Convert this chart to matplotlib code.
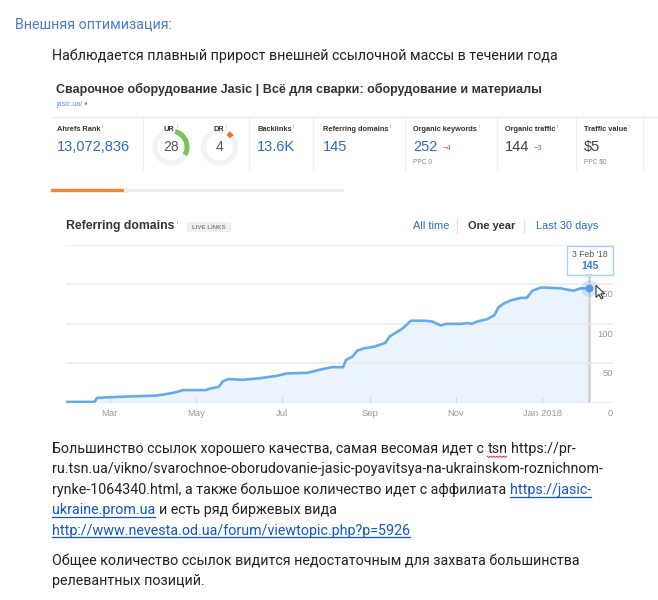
import numpy as np
import pandas as pd
import matplotlib
matplotlib.use('Agg')
import matplotlib.pyplot as plt
import matplotlib.dates as mdates
from matplotlib.patches import Rectangle, Wedge, Polygon
from matplotlib.lines import Line2D
from matplotlib.transforms import IdentityTransform, blended_transform_factory

# referring domains, one year view
dates = ['2017-01-29', '2017-02-18', '2017-02-20', '2017-03-01', '2017-03-16',
         '2017-04-03', '2017-04-10', '2017-04-16', '2017-04-22', '2017-05-08',
         '2017-05-11', '2017-05-17', '2017-05-20', '2017-05-24', '2017-06-03',
         '2017-06-15', '2017-06-27', '2017-07-04', '2017-07-19', '2017-07-28',
         '2017-08-05', '2017-08-13', '2017-08-15', '2017-08-20', '2017-08-23',
         '2017-08-28', '2017-09-04', '2017-09-12', '2017-09-15', '2017-09-24',
         '2017-09-30', '2017-10-09', '2017-10-15', '2017-10-21', '2017-10-25',
         '2017-11-05', '2017-11-09', '2017-11-12', '2017-11-16', '2017-11-23',
         '2017-11-28', '2017-12-01', '2017-12-05', '2017-12-10', '2017-12-17',
         '2017-12-21', '2017-12-25', '2017-12-31', '2018-01-03', '2018-01-14',
         '2018-01-23', '2018-01-28', '2018-02-03']
domains = [1, 1, 6, 7, 8,
           9, 11, 13, 16, 16,
           18, 20, 27, 30, 29,
           31, 34, 37, 38, 42,
           45, 45, 54, 59, 66,
           69, 71, 76, 84, 94,
           104, 104, 103, 98, 100,
           100, 101, 100, 103, 106,
           111, 121, 126, 130, 133,
           133, 142, 146, 146, 145,
           142, 145, 145]

month_ticks = ['2017-03-01', '2017-05-01', '2017-07-01', '2017-09-01', '2017-11-01', '2018-01-01']
month_labels = ['Mar', 'May', 'Jul', 'Sep', 'Nov', 'Jan 2018']
y_ticks = [0, 50, 100, 150, 200]
y_labels = ['0', '50', '100', '150', '']
x_start, x_end = '2017-01-29', '2018-02-20'
hover_date = '2018-02-03'
hover_label = "3 Feb '18"
hover_value = 145

metric_names = ['Ahrefs Rank', 'UR', 'DR', 'Backlinks', 'Referring domains',
                'Organic keywords', 'Organic traffic', 'Traffic value']
metric_values = ['13,072,836', '28', '4', '13.6K', '145', '252', '144', '$5']
ur_score, dr_score = 28, 4

W, H = 658, 600
BLUE = '#2f6bc4'
LINK = '#1155cc'
DOC = 'Roboto'
AH = ['Liberation Sans', 'DejaVu Sans']

fig = plt.figure(figsize=(W / 100, H / 100), dpi=100)
fig.patch.set_facecolor('white')
px = IdentityTransform()
renderer = fig.canvas.get_renderer()


def text(x, y, s, size, color='#222', weight='normal', family=DOC, ha='left', va='baseline', **kw):
    return fig.text(x, H - y, s, transform=px, fontsize=size, color=color,
                    fontweight=weight, family=family, ha=ha, va=va, **kw)


def hline(x0, x1, y, color, lw):
    fig.add_artist(Line2D([x0, x1], [H - y, H - y], transform=px, color=color, lw=lw))


def vline(x, y0, y1, color, lw):
    fig.add_artist(Line2D([x, x], [H - y0, H - y1], transform=px, color=color, lw=lw))


def measure(s, size):
    t = text(100, 100, s, size)
    w = t.get_window_extent(renderer).width
    t.remove()
    return w


def rich_line(x, y, parts, size=10.3):
    # parts are separated by one space; kind: '', 'link', 'typo'
    sp = measure('a a', size) - measure('aa', size)
    for s, kind in parts:
        t = text(x, y, s, size, color=LINK if kind == 'link' else '#222')
        bb = t.get_window_extent(renderer)
        if kind == 'link':
            hline(bb.x0, bb.x1, y + 2.6, LINK, 0.9)
        elif kind == 'typo':
            xs = np.arange(bb.x0, bb.x1 + 0.1, 1.6)
            ys = H - (y + 3.2) - 1.2 * (np.arange(len(xs)) % 2)
            fig.add_artist(Line2D(xs, ys, transform=px, color='#d93025', lw=0.7))
        x = bb.x1 + sp


# document header
text(15, 28.5, 'Внешняя оптимизация:', 10.3, color='#4a7bd0')
text(52, 60, 'Наблюдается плавный прирост внешней ссылочной массы в течении года', 10.3)

# ahrefs header
text(56, 93.5, 'Сварочное оборудование Jasic | Всё для сварки: оборудование и материалы',
     9.0, color='#333', weight='bold', family=AH)
text(56, 105.5, 'jasic.ua/ \u25be', 5.0, color='#6b8ec9', family=AH)
hline(52, 658, 117, '#eeeeee', 1)
for x in [143, 249, 313, 405, 497, 576, 643]:
    vline(x, 117, 170, '#f0f0f0', 1)

# metric labels and values
label_x = [57, 164, 213, 257, 323, 413, 505, 584]
value_colors = [BLUE, '#555', '#444', BLUE, BLUE, BLUE, '#444', '#444']
for i, (name, val) in enumerate(zip(metric_names, metric_values)):
    t = text(label_x[i], 131, name, 5.3, color='#333', weight='bold', family=AH)
    bb = t.get_window_extent(renderer)
    text(bb.x1 + 1.5, 128, 'i', 3.6, color='#aaa', family=AH)
    if name in ('UR', 'DR'):
        continue
    text(label_x[i], 151, val, 10.5, color=value_colors[i], family=AH)
text(443, 150, '\u22124', 5.4, color='#d0534f', family=AH)
text(534, 150, '\u22123', 5.4, color='#d0534f', family=AH)
text(413, 164, 'PPC 0', 4.8, color='#888', family=AH)
text(584, 164, 'PPC $0', 4.8, color='#888', family=AH)

# UR / DR donuts
for cx, score, col, arc in [(171, ur_score, '#7cc35a', (-30, 75)),
                            (219.5, dr_score, '#f2711c', (40, 58))]:
    ring = Wedge((cx, H - 147), 18.5, 0, 360, width=5, transform=px,
                 facecolor='#f3f3f3', edgecolor='none')
    fig.add_artist(ring)
    fig.add_artist(Wedge((cx, H - 147), 18.5, arc[0], arc[1], width=5, transform=px,
                         facecolor=col, edgecolor='none'))
    text(cx, 151, str(score), 10, color='#555', family=AH, ha='center')

# tab bar
hline(52, 125, 190, '#ff7f2a', 2.4)
hline(125, 342, 190, '#eeeeee', 2.4)

# chart title row
t = text(66, 229.3, 'Referring domains', 8.8, color='#333', weight='bold', family=AH)
bb = t.get_window_extent(renderer)
text(bb.x1 + 2, 224, 'i', 4, color='#999', family=AH)
fig.add_artist(Rectangle((187, H - 231.7), 44, 10, transform=px, facecolor='#f0f0f0', edgecolor='none'))
text(209, 229.3, 'LIVE LINKS', 4.4, color='#888', weight='bold', family=AH, ha='center')
text(413, 229, 'All time', 7.9, color=BLUE, family=AH)
text(468, 229, 'One year', 7.9, color='#333', weight='bold', family=AH)
text(536, 229, 'Last 30 days', 7.9, color=BLUE, family=AH)
vline(457, 219, 233, '#e3e3e3', 1)
vline(524, 219, 233, '#e3e3e3', 1)

# chart
ax = fig.add_axes([66 / W, 1 - 402.7 / H, (613 - 66) / W, (402.7 - 245) / H])
d = pd.to_datetime(dates)
ax.fill_between(d, domains, 0, color='#ebf3fc', lw=0, zorder=1)
ax.plot(d, domains, color='#66abe7', lw=1.9, zorder=3, solid_joinstyle='round')
ax.set_xlim(pd.Timestamp(x_start), pd.Timestamp(x_end))
ax.set_ylim(0, 200)
for s in ax.spines.values():
    s.set_visible(False)
ax.set_facecolor('none')
ax.set_yticks(y_ticks)
ax.tick_params(axis='y', length=0, labelleft=False)
ax.yaxis.grid(True, color='#ebebeb', lw=1.1)
ax.set_axisbelow(False)
ax.set_xticks(pd.to_datetime(month_ticks))
ax.set_xticklabels(month_labels)
ax.tick_params(axis='x', direction='in', length=4, color='#d8d8d8', labelcolor='#999',
               labelsize=6.8, pad=4.5)
for lab in ax.get_xticklabels():
    lab.set_family(AH)
ytr = blended_transform_factory(ax.transAxes, ax.transData)
for v, lab in zip(y_ticks, y_labels):
    ax.annotate(lab, (1, v), xycoords=ytr, xytext=(0, -7.6), textcoords='offset points',
                ha='right', va='center', fontsize=6.8, color='#999', family=AH)

# hover state
hd = pd.Timestamp(hover_date)
ax.plot([hd, hd], [0, 162], color='#d5d5d5', lw=2, zorder=2)
ax.scatter([hd], [hover_value], s=150, color='#5aa0e0', alpha=0.22, lw=0, zorder=4)
ax.scatter([hd], [hover_value], s=34, color='#5aa0e0', lw=0, zorder=5)
mx, my = ax.transData.transform((mdates.date2num(hd), hover_value))
fig.add_artist(Rectangle((mx - 21.6, my + 13.3), 45.6, 29, transform=px,
                         facecolor='white', edgecolor='#a9d0f0', lw=1, zorder=6))
fig.add_artist(Polygon([[mx - 3, my + 13.8], [mx + 3, my + 13.8], [mx, my + 11]], transform=px,
                       facecolor='white', edgecolor='#a9d0f0', lw=0.8, zorder=6))
fig.text(mx + 1.2, my + 34.3, hover_label, transform=px, fontsize=6.2, color='#555',
         family=AH, ha='center', va='center', zorder=7)
fig.text(mx + 1.2, my + 22.3, str(hover_value), transform=px, fontsize=7.6, color='#3b7dd8',
         weight='bold', family=AH, ha='center', va='center', zorder=7)

# mouse cursor
cx0, cy0 = mx + 7, my + 3
cursor = np.array([[0, 0], [0, -12], [3, -9], [5.2, -13.5], [7, -12.6], [4.8, -8.4], [8.6, -8.4]])
fig.add_artist(Polygon(cursor + [cx0, cy0], transform=px, facecolor='white',
                       edgecolor='#333', lw=0.8, zorder=8))

# body text
rich_line(52, 453, [('Большинство ссылок хорошего качества, самая весомая идет с', ''),
                    ('tsn', 'typo'), ('https://pr-', '')])
rich_line(52, 473.5, [('ru.tsn.ua/vikno/svarochnoe-oborudovanie-jasic-poyavitsya-na-ukrainskom-roznichnom-', '')])
rich_line(52, 494, [('rynke-1064340.html, а также большое количество идет с аффилиата', ''),
                    ('https://jasic-', 'link')])
rich_line(52, 514, [('ukraine.prom.ua', 'link'), ('и есть ряд биржевых вида', '')])
rich_line(52, 534.5, [('http://www.nevesta.od.ua/forum/viewtopic.php?p=5926', 'link')])
rich_line(52, 565, [('Общее количество ссылок видится недостаточным для захвата большинства', '')])
rich_line(52, 585.5, [('релевантных позиций.', '')])

fig.savefig('out.png', dpi=100, facecolor='white')
